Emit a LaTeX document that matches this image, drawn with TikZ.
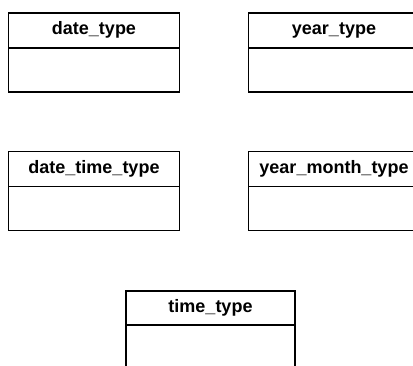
\documentclass[tikz,border=0pt]{standalone}
\usepackage{fontspec}
\setmainfont{Liberation Sans}
\usetikzlibrary{positioning}

\tikzset{
	classhead/.style={draw, line width=1.9pt, outer sep=0pt, inner sep=0pt,
		minimum width=171pt, minimum height=35pt,
		font=\fontsize{18}{20}\selectfont\bfseries},
	classbody/.style={draw, line width=1.9pt, outer sep=0pt, inner sep=0pt,
		minimum width=171pt, minimum height=44pt},
}

\begin{document}
\begin{tikzpicture}[x=1pt,y=1pt]
	% Frame of the picture (right and bottom boxes run past it)
	\useasboundingbox (0,0) rectangle (413,-365);
	\clip (0,0) rectangle (413,-365);
	
	% Top row
	\node[classhead] (datehead) at (94,-30.2) {date\_type};
	\node[classbody, below=0pt of datehead] (datebody) {};
	\node[classhead] (yearhead) at (334,-30.2) {year\_type};
	\node[classbody, below=0pt of yearhead] (yearbody) {};
	
	% Middle row
	\node[classhead] (datetimehead) at (94,-169) {date\_time\_type};
	\node[classbody, below=0pt of datetimehead] (datetimebody) {};
	\node[classhead] (yearmonthhead) at (334,-169) {year\_month\_type};
	\node[classbody, below=0pt of yearmonthhead] (yearmonthbody) {};
	
	% Bottom box
	\node[classhead, minimum height=34pt, minimum width=169pt] (timehead) at (210.5,-308) {time\_type};
	\node[classbody, minimum width=169pt, below=0pt of timehead] (timebody) {};
\end{tikzpicture}
\end{document}
